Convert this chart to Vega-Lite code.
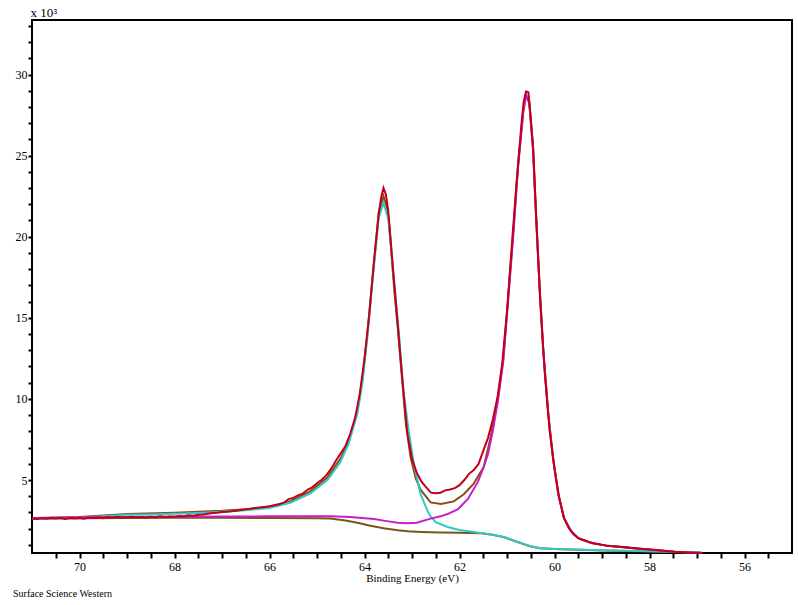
{
  "$schema": "https://vega.github.io/schema/vega-lite/v6.json",
  "autosize": "none",
  "width": 760,
  "height": 533,
  "padding": {"left": 32, "top": 20, "right": 6, "bottom": 52},
  "background": "white",
  "config": {
    "view": {"stroke": "black", "strokeWidth": 2},
    "axis": {"labelFont": "Liberation Serif", "titleFont": "Liberation Serif", "labelColor": "black", "titleColor": "black", "tickColor": "black", "labelFontSize": 12, "titleFontSize": 11, "titleFontWeight": "normal", "grid": false, "domain": false, "tickWidth": 2, "labelOverlap": false, "labelFlush": false}
  },
  "title": {"text": "Surface Science Western", "orient": "bottom", "anchor": "start", "frame": "bounds", "font": "Liberation Serif", "fontSize": 10, "fontWeight": "normal", "color": "black", "offset": 6, "dx": -2},
  "data": {"values": [
    {"s":"bg","x":71.0,"y":2.62},{"s":"bg","x":70.0,"y":2.64},{"s":"bg","x":69.0,"y":2.66},{"s":"bg","x":68.0,"y":2.67},{"s":"bg","x":67.0,"y":2.67},{"s":"bg","x":66.0,"y":2.66},{"s":"bg","x":65.0,"y":2.65},{"s":"bg","x":64.72,"y":2.62},{"s":"bg","x":64.4,"y":2.5},{"s":"bg","x":64.15,"y":2.37},{"s":"bg","x":63.9,"y":2.2},{"s":"bg","x":63.6,"y":2.03},{"s":"bg","x":63.3,"y":1.9},{"s":"bg","x":63.09,"y":1.84},{"s":"bg","x":62.8,"y":1.8},{"s":"bg","x":62.4,"y":1.77},{"s":"bg","x":62.0,"y":1.75},{"s":"bg","x":61.55,"y":1.72},{"s":"bg","x":61.3,"y":1.62},{"s":"bg","x":61.06,"y":1.47},{"s":"bg","x":60.9,"y":1.3},{"s":"bg","x":60.7,"y":1.1},{"s":"bg","x":60.5,"y":0.9},{"s":"bg","x":60.3,"y":0.79},{"s":"bg","x":60.0,"y":0.74},{"s":"bg","x":59.5,"y":0.7},{"s":"bg","x":59.0,"y":0.66},{"s":"bg","x":58.0,"y":0.6},{"s":"bg","x":57.0,"y":0.53},{"s":"bg","x":56.9,"y":0.52},
    {"s":"c1","x":71.0,"y":2.63},{"s":"c1","x":70.5,"y":2.65},{"s":"c1","x":70.0,"y":2.68},{"s":"c1","x":69.5,"y":2.76},{"s":"c1","x":69.0,"y":2.86},{"s":"c1","x":68.5,"y":2.88},{"s":"c1","x":68.0,"y":2.92},{"s":"c1","x":67.5,"y":2.97},{"s":"c1","x":67.0,"y":3.04},{"s":"c1","x":66.5,"y":3.14},{"s":"c1","x":66.0,"y":3.28},{"s":"c1","x":65.56,"y":3.6},{"s":"c1","x":65.14,"y":4.18},{"s":"c1","x":64.78,"y":5.0},{"s":"c1","x":64.51,"y":6.1},{"s":"c1","x":64.34,"y":7.2},{"s":"c1","x":64.15,"y":9.08},{"s":"c1","x":64.04,"y":11.1},{"s":"c1","x":63.94,"y":13.8},{"s":"c1","x":63.83,"y":17.3},{"s":"c1","x":63.7,"y":21.2},{"s":"c1","x":63.6,"y":22.1},{"s":"c1","x":63.49,"y":21.0},{"s":"c1","x":63.39,"y":17.7},{"s":"c1","x":63.28,"y":14.2},{"s":"c1","x":63.18,"y":10.5},{"s":"c1","x":63.07,"y":8.03},{"s":"c1","x":62.96,"y":6.0},{"s":"c1","x":62.82,"y":4.13},{"s":"c1","x":62.67,"y":3.08},{"s":"c1","x":62.61,"y":2.75},{"s":"c1","x":62.5,"y":2.4},{"s":"c1","x":62.25,"y":2.1},{"s":"c1","x":62.0,"y":1.92},{"s":"c1","x":61.55,"y":1.74},{"s":"c1","x":61.06,"y":1.49},{"s":"c1","x":60.9,"y":1.31},{"s":"c1","x":60.7,"y":1.11},{"s":"c1","x":60.5,"y":0.91},{"s":"c1","x":60.3,"y":0.8},{"s":"c1","x":60.0,"y":0.75},{"s":"c1","x":59.0,"y":0.67},{"s":"c1","x":58.0,"y":0.61},{"s":"c1","x":57.0,"y":0.54},{"s":"c1","x":56.9,"y":0.53},
    {"s":"c2","x":71.0,"y":2.66},{"s":"c2","x":70.0,"y":2.7},{"s":"c2","x":69.0,"y":2.72},{"s":"c2","x":68.0,"y":2.74},{"s":"c2","x":67.0,"y":2.75},{"s":"c2","x":66.0,"y":2.76},{"s":"c2","x":65.0,"y":2.77},{"s":"c2","x":64.72,"y":2.77},{"s":"c2","x":64.3,"y":2.72},{"s":"c2","x":63.8,"y":2.59},{"s":"c2","x":63.5,"y":2.45},{"s":"c2","x":63.3,"y":2.36},{"s":"c2","x":63.1,"y":2.33},{"s":"c2","x":62.9,"y":2.36},{"s":"c2","x":62.61,"y":2.62},{"s":"c2","x":62.4,"y":2.76},{"s":"c2","x":62.25,"y":2.9},{"s":"c2","x":62.03,"y":3.2},{"s":"c2","x":61.82,"y":3.85},{"s":"c2","x":61.61,"y":4.9},{"s":"c2","x":61.49,"y":5.8},{"s":"c2","x":61.4,"y":6.6},{"s":"c2","x":61.3,"y":8.0},{"s":"c2","x":61.19,"y":9.9},{"s":"c2","x":61.08,"y":12.3},{"s":"c2","x":60.98,"y":15.9},{"s":"c2","x":60.87,"y":20.0},{"s":"c2","x":60.77,"y":24.2},{"s":"c2","x":60.66,"y":27.6},{"s":"c2","x":60.6,"y":28.7},{"s":"c2","x":60.53,"y":28.2},{"s":"c2","x":60.45,"y":25.3},{"s":"c2","x":60.39,"y":21.3},{"s":"c2","x":60.32,"y":17.2},{"s":"c2","x":60.24,"y":13.1},{"s":"c2","x":60.13,"y":9.0},{"s":"c2","x":60.03,"y":6.3},{"s":"c2","x":59.92,"y":4.1},{"s":"c2","x":59.8,"y":2.65},{"s":"c2","x":59.65,"y":1.84},{"s":"c2","x":59.5,"y":1.42},{"s":"c2","x":59.22,"y":1.12},{"s":"c2","x":58.87,"y":0.94},{"s":"c2","x":58.17,"y":0.74},{"s":"c2","x":57.47,"y":0.57},{"s":"c2","x":56.9,"y":0.5},
    {"s":"env","x":71.0,"y":2.64},{"s":"env","x":70.0,"y":2.72},{"s":"env","x":69.0,"y":2.9},{"s":"env","x":68.0,"y":2.98},{"s":"env","x":67.0,"y":3.1},{"s":"env","x":66.5,"y":3.2},{"s":"env","x":66.0,"y":3.36},{"s":"env","x":65.56,"y":3.7},{"s":"env","x":65.14,"y":4.3},{"s":"env","x":64.78,"y":5.15},{"s":"env","x":64.51,"y":6.3},{"s":"env","x":64.34,"y":7.35},{"s":"env","x":64.15,"y":9.25},{"s":"env","x":64.04,"y":11.3},{"s":"env","x":63.94,"y":14.0},{"s":"env","x":63.83,"y":17.5},{"s":"env","x":63.7,"y":21.5},{"s":"env","x":63.6,"y":22.5},{"s":"env","x":63.51,"y":21.6},{"s":"env","x":63.45,"y":19.6},{"s":"env","x":63.37,"y":16.6},{"s":"env","x":63.3,"y":14.4},{"s":"env","x":63.2,"y":10.9},{"s":"env","x":63.13,"y":8.5},{"s":"env","x":63.03,"y":6.4},{"s":"env","x":62.92,"y":5.1},{"s":"env","x":62.82,"y":4.4},{"s":"env","x":62.67,"y":3.85},{"s":"env","x":62.61,"y":3.62},{"s":"env","x":62.39,"y":3.52},{"s":"env","x":62.12,"y":3.68},{"s":"env","x":61.91,"y":4.12},{"s":"env","x":61.7,"y":4.78},{"s":"env","x":61.49,"y":5.8},{"s":"env","x":61.34,"y":7.7},{"s":"env","x":61.19,"y":10.1},{"s":"env","x":61.08,"y":12.4},{"s":"env","x":60.98,"y":16.1},{"s":"env","x":60.87,"y":20.2},{"s":"env","x":60.77,"y":24.3},{"s":"env","x":60.66,"y":27.7},{"s":"env","x":60.6,"y":28.75},{"s":"env","x":60.53,"y":28.3},{"s":"env","x":60.45,"y":25.4},{"s":"env","x":60.39,"y":21.4},{"s":"env","x":60.32,"y":17.3},{"s":"env","x":60.24,"y":13.15},{"s":"env","x":60.13,"y":9.05},{"s":"env","x":60.03,"y":6.35},{"s":"env","x":59.92,"y":4.12},{"s":"env","x":59.8,"y":2.66},{"s":"env","x":59.65,"y":1.85},{"s":"env","x":59.5,"y":1.42},{"s":"env","x":59.22,"y":1.12},{"s":"env","x":58.87,"y":0.94},{"s":"env","x":58.17,"y":0.74},{"s":"env","x":57.47,"y":0.57},{"s":"env","x":56.9,"y":0.5},
    {"s":"raw","x":71.0,"y":2.62},{"s":"raw","x":70.9,"y":2.6},{"s":"raw","x":70.8,"y":2.64},{"s":"raw","x":70.7,"y":2.61},{"s":"raw","x":70.6,"y":2.65},{"s":"raw","x":70.5,"y":2.62},{"s":"raw","x":70.4,"y":2.66},{"s":"raw","x":70.3,"y":2.6},{"s":"raw","x":70.2,"y":2.65},{"s":"raw","x":70.1,"y":2.63},{"s":"raw","x":70.0,"y":2.66},{"s":"raw","x":69.9,"y":2.61},{"s":"raw","x":69.8,"y":2.68},{"s":"raw","x":69.7,"y":2.66},{"s":"raw","x":69.6,"y":2.69},{"s":"raw","x":69.5,"y":2.64},{"s":"raw","x":69.4,"y":2.7},{"s":"raw","x":69.3,"y":2.67},{"s":"raw","x":69.2,"y":2.73},{"s":"raw","x":69.1,"y":2.68},{"s":"raw","x":69.0,"y":2.71},{"s":"raw","x":68.9,"y":2.74},{"s":"raw","x":68.8,"y":2.69},{"s":"raw","x":68.7,"y":2.72},{"s":"raw","x":68.6,"y":2.68},{"s":"raw","x":68.5,"y":2.74},{"s":"raw","x":68.4,"y":2.7},{"s":"raw","x":68.3,"y":2.76},{"s":"raw","x":68.2,"y":2.72},{"s":"raw","x":68.1,"y":2.75},{"s":"raw","x":68.0,"y":2.73},{"s":"raw","x":67.9,"y":2.78},{"s":"raw","x":67.8,"y":2.76},{"s":"raw","x":67.7,"y":2.82},{"s":"raw","x":67.6,"y":2.8},{"s":"raw","x":67.5,"y":2.86},{"s":"raw","x":67.4,"y":2.87},{"s":"raw","x":67.3,"y":2.92},{"s":"raw","x":67.2,"y":2.96},{"s":"raw","x":67.1,"y":2.98},{"s":"raw","x":67.0,"y":3.03},{"s":"raw","x":66.9,"y":3.04},{"s":"raw","x":66.8,"y":3.08},{"s":"raw","x":66.7,"y":3.1},{"s":"raw","x":66.6,"y":3.15},{"s":"raw","x":66.5,"y":3.2},{"s":"raw","x":66.4,"y":3.22},{"s":"raw","x":66.3,"y":3.28},{"s":"raw","x":66.2,"y":3.3},{"s":"raw","x":66.1,"y":3.34},{"s":"raw","x":66.0,"y":3.38},{"s":"raw","x":65.9,"y":3.44},{"s":"raw","x":65.8,"y":3.5},{"s":"raw","x":65.7,"y":3.6},{"s":"raw","x":65.6,"y":3.82},{"s":"raw","x":65.5,"y":3.9},{"s":"raw","x":65.4,"y":4.05},{"s":"raw","x":65.3,"y":4.16},{"s":"raw","x":65.2,"y":4.4},{"s":"raw","x":65.1,"y":4.55},{"s":"raw","x":65.0,"y":4.8},{"s":"raw","x":64.9,"y":5.02},{"s":"raw","x":64.8,"y":5.3},{"s":"raw","x":64.7,"y":5.7},{"s":"raw","x":64.6,"y":6.2},{"s":"raw","x":64.5,"y":6.65},{"s":"raw","x":64.4,"y":7.1},{"s":"raw","x":64.3,"y":7.85},{"s":"raw","x":64.2,"y":8.8},{"s":"raw","x":64.1,"y":10.3},{"s":"raw","x":64.0,"y":12.5},{"s":"raw","x":63.9,"y":15.2},{"s":"raw","x":63.8,"y":18.5},{"s":"raw","x":63.7,"y":21.4},{"s":"raw","x":63.65,"y":22.4},{"s":"raw","x":63.6,"y":23.0},{"s":"raw","x":63.55,"y":22.6},{"s":"raw","x":63.5,"y":21.6},{"s":"raw","x":63.45,"y":19.8},{"s":"raw","x":63.4,"y":18.0},{"s":"raw","x":63.3,"y":14.6},{"s":"raw","x":63.2,"y":11.1},{"s":"raw","x":63.1,"y":7.9},{"s":"raw","x":63.0,"y":6.3},{"s":"raw","x":62.9,"y":5.45},{"s":"raw","x":62.8,"y":4.9},{"s":"raw","x":62.7,"y":4.55},{"s":"raw","x":62.6,"y":4.22},{"s":"raw","x":62.5,"y":4.18},{"s":"raw","x":62.4,"y":4.22},{"s":"raw","x":62.3,"y":4.36},{"s":"raw","x":62.2,"y":4.42},{"s":"raw","x":62.1,"y":4.5},{"s":"raw","x":62.0,"y":4.68},{"s":"raw","x":61.9,"y":5.0},{"s":"raw","x":61.8,"y":5.38},{"s":"raw","x":61.7,"y":5.62},{"s":"raw","x":61.6,"y":5.98},{"s":"raw","x":61.5,"y":6.8},{"s":"raw","x":61.4,"y":7.6},{"s":"raw","x":61.3,"y":8.7},{"s":"raw","x":61.2,"y":10.1},{"s":"raw","x":61.1,"y":12.2},{"s":"raw","x":61.0,"y":15.4},{"s":"raw","x":60.9,"y":19.4},{"s":"raw","x":60.8,"y":23.3},{"s":"raw","x":60.7,"y":26.8},{"s":"raw","x":60.65,"y":28.3},{"s":"raw","x":60.6,"y":28.95},{"s":"raw","x":60.55,"y":28.9},{"s":"raw","x":60.5,"y":27.3},{"s":"raw","x":60.45,"y":25.5},{"s":"raw","x":60.4,"y":22.2},{"s":"raw","x":60.3,"y":16.0},{"s":"raw","x":60.2,"y":11.4},{"s":"raw","x":60.1,"y":8.0},{"s":"raw","x":60.0,"y":5.7},{"s":"raw","x":59.9,"y":3.9},{"s":"raw","x":59.8,"y":2.65},{"s":"raw","x":59.7,"y":2.05},{"s":"raw","x":59.6,"y":1.65},{"s":"raw","x":59.5,"y":1.41},{"s":"raw","x":59.4,"y":1.3},{"s":"raw","x":59.3,"y":1.2},{"s":"raw","x":59.2,"y":1.12},{"s":"raw","x":59.1,"y":1.06},{"s":"raw","x":59.0,"y":1.0},{"s":"raw","x":58.9,"y":0.95},{"s":"raw","x":58.7,"y":0.9},{"s":"raw","x":58.5,"y":0.86},{"s":"raw","x":58.3,"y":0.8},{"s":"raw","x":58.1,"y":0.74},{"s":"raw","x":57.9,"y":0.7},{"s":"raw","x":57.7,"y":0.64},{"s":"raw","x":57.5,"y":0.58},{"s":"raw","x":57.3,"y":0.55},{"s":"raw","x":57.1,"y":0.52},{"s":"raw","x":56.9,"y":0.5}
  ]},
  "encoding": {
    "x": {"field": "x", "type": "quantitative", "scale": {"domain": [71, 55], "nice": false, "zero": false},
      "axis": {"title": "Binding Energy (eV)", "values": [55.5,56,56.5,57,57.5,58,58.5,59,59.5,60,60.5,61,61.5,62,62.5,63,63.5,64,64.5,65,65.5,66,66.5,67,67.5,68,68.5,69,69.5,70,70.5],
        "labelExpr": "datum.value % 2 === 0 ? format(datum.value, 'd') : ''", "tickSize": 5, "labelPadding": 3, "titlePadding": 0}},
    "y": {"field": "y", "type": "quantitative", "scale": {"domain": [0.5, 33.36], "nice": false, "zero": false},
      "axis": {"title": "x 10³", "titleAngle": 0, "titleX": -2, "titleY": -4, "titleAlign": "left", "titleBaseline": "alphabetic", "titleFontSize": 13,
        "values": [1,2,3,4,5,6,7,8,9,10,11,12,13,14,15,16,17,18,19,20,21,22,23,24,25,26,27,28,29,30,31,32,33],
        "labelExpr": "datum.value % 5 === 0 ? format(datum.value, 'd') : ''", "tickSize": 4, "labelPadding": 1}}
  },
  "layer": [
    {"transform": [{"filter": "datum.s === 'bg'"}], "mark": {"type": "line", "color": "#7a5514", "strokeWidth": 2}},
    {"transform": [{"filter": "datum.s === 'env'"}], "mark": {"type": "line", "color": "#8b4a1a", "strokeWidth": 2}},
    {"transform": [{"filter": "datum.s === 'c1'"}], "mark": {"type": "line", "color": "#33c8c8", "strokeWidth": 2}},
    {"transform": [{"filter": "datum.s === 'c2'"}], "mark": {"type": "line", "color": "#c81ec8", "strokeWidth": 2}},
    {"transform": [{"filter": "datum.s === 'raw'"}], "mark": {"type": "line", "color": "#c00018", "strokeWidth": 2}}
  ]
}
